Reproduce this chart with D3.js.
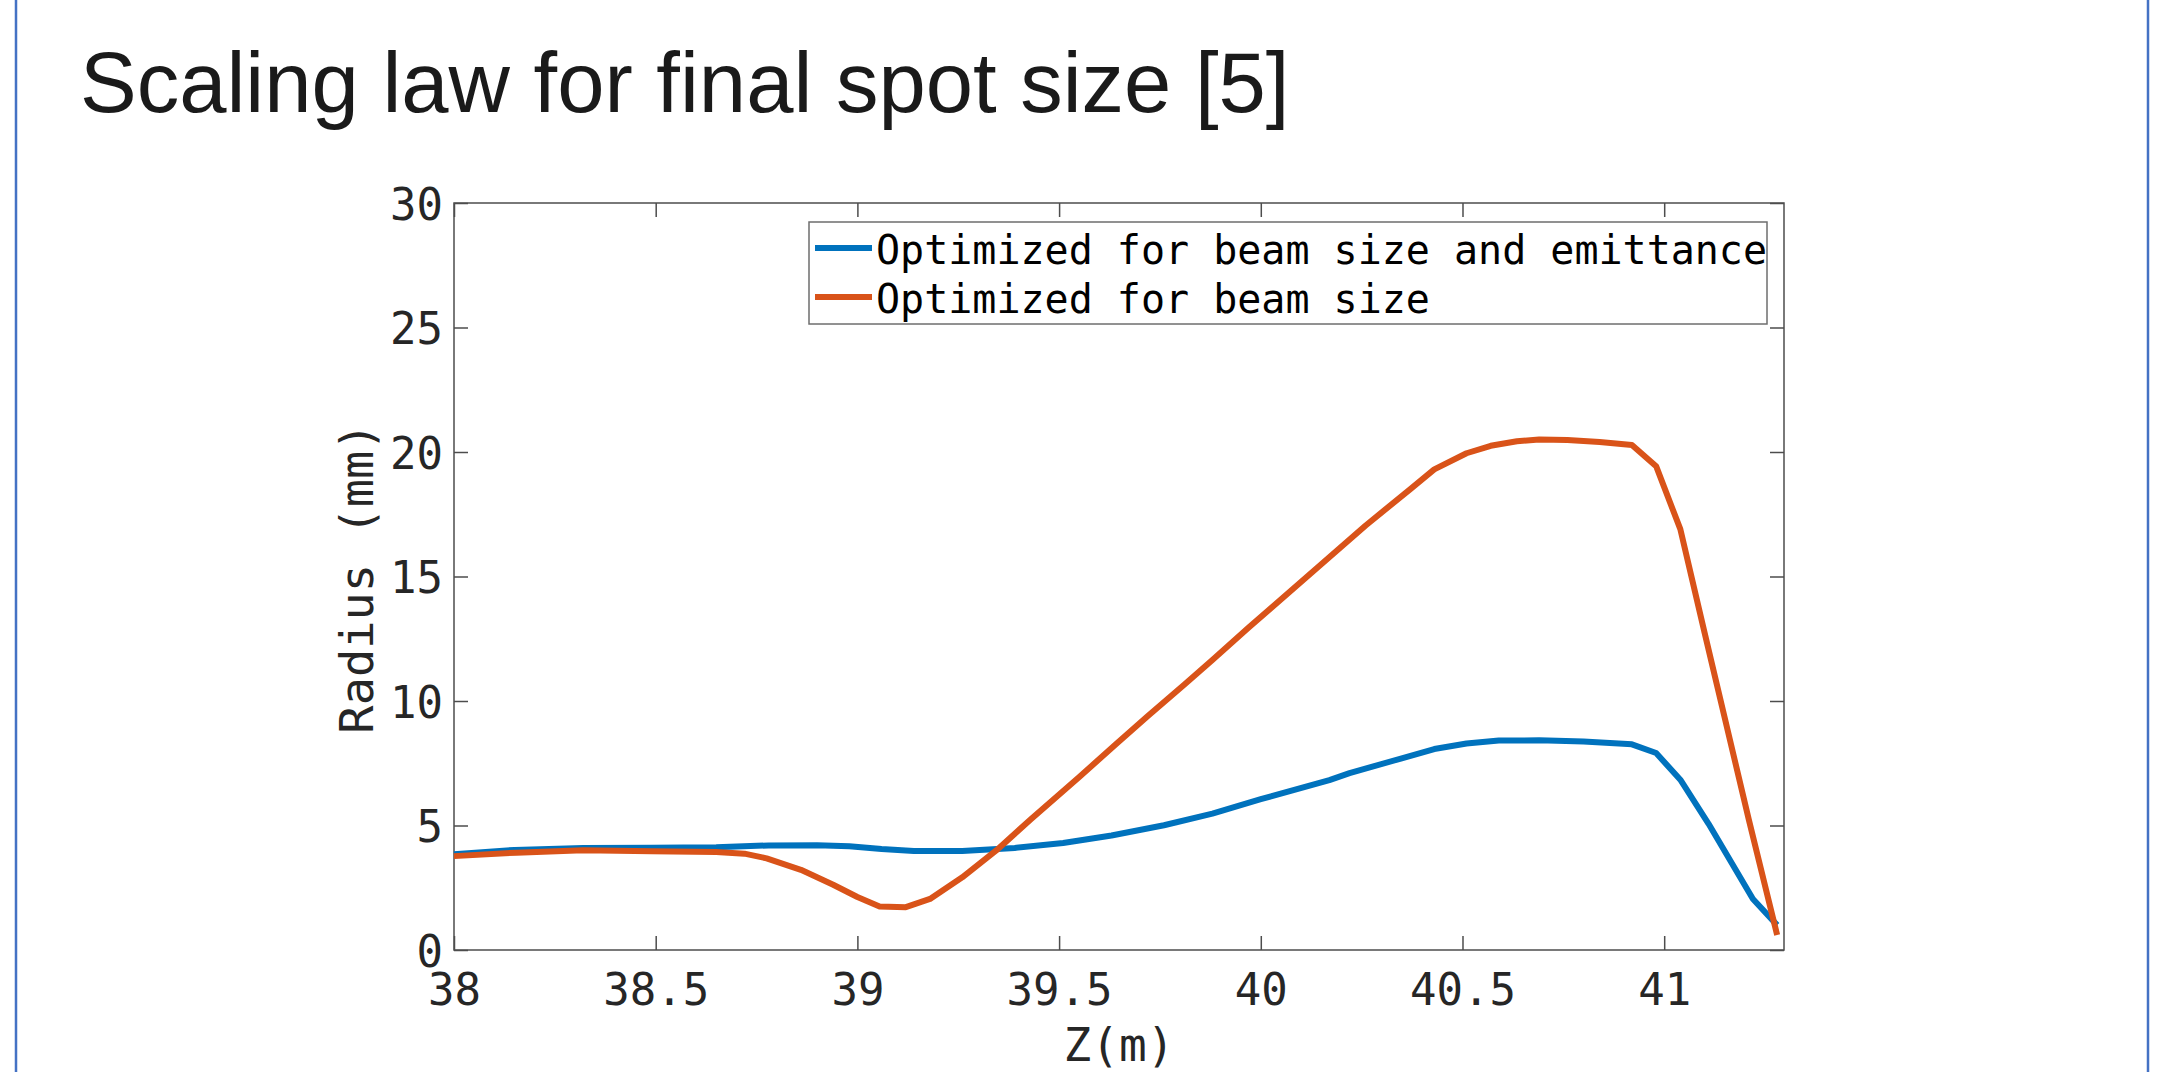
<!DOCTYPE html>
<html>
<head>
<meta charset="utf-8">
<script src="https://cdn.jsdelivr.net/npm/d3@7"></script>
<style>
  body { margin: 0; background: #fff; }
  svg { display: block; }
</style>
</head>
<body>
<div id="svganchor"></div>
<script>
/*
------------------------
DATA: values
------------------------
*/
// "Optimized for beam size and emittance"
let zBlue = [38.00, 38.15, 38.32, 38.49, 38.65, 38.78, 38.90, 38.98, 39.06, 39.14, 39.26, 39.39,
  39.51, 39.63, 39.76, 39.88, 40.00, 40.17, 40.22, 40.345, 40.43, 40.51, 40.59, 40.69, 40.80,
  40.92, 40.98, 41.04, 41.11, 41.22, 41.28]
let rBlue = [3.85, 4.02, 4.10, 4.11, 4.13, 4.20, 4.21, 4.17, 4.06, 3.98, 3.98, 4.10,
  4.30, 4.60, 5.01, 5.48, 6.06, 6.82, 7.10, 7.68, 8.07, 8.29, 8.41, 8.42, 8.37,
  8.26, 7.91, 6.84, 5.07, 2.05, 1.00]

// "Optimized for beam size"
let zOrange = [38.00, 38.155, 38.32, 38.49, 38.65, 38.72, 38.775, 38.86, 38.94, 39.00, 39.055, 39.12,
  39.18, 39.26, 39.345, 39.43, 39.55, 39.64, 39.72, 39.81, 39.88, 39.97, 40.14, 40.26, 40.37,
  40.43, 40.51, 40.57, 40.635, 40.69, 40.76, 40.84, 40.92, 40.98, 41.04, 41.10, 41.21, 41.28]
let rOrange = [3.77, 3.91, 4.01, 3.97, 3.94, 3.87, 3.68, 3.22, 2.62, 2.13, 1.75, 1.72,
  2.05, 2.92, 4.01, 5.25, 6.95, 8.25, 9.40, 10.65, 11.65, 12.95, 15.35, 17.05, 18.50,
  19.30, 19.95, 20.25, 20.43, 20.50, 20.48, 20.40, 20.28, 19.43, 16.90, 12.75, 5.22, 0.60]

let seriesNames = ["Optimized for beam size and emittance", "Optimized for beam size"]
let xTicks = [38, 38.5, 39, 39.5, 40, 40.5, 41]
let yTicks = [0, 5, 10, 15, 20, 25, 30]
let xDomain = [38, 41.297]
let yDomain = [0, 30]

/*
------------------------
METHOD: set the dimensions of the graph
------------------------
*/
var W = 2164, H = 1072;
var margin = { top: 203, right: W - 1784, bottom: H - 950, left: 454 },
  width = W - margin.left - margin.right,
  height = H - margin.top - margin.bottom;

var monoFont = "'DejaVu Sans Mono', monospace";
var inkColor = "#262626";
var myColor = ["#0072BD", "#D95319"];

var svg = d3.select("#svganchor").append("svg")
  .attr("width", W)
  .attr("height", H);

svg.append("rect").attr("width", W).attr("height", H).attr("fill", "white");

// slide frame lines left and right
svg.append("line").attr("x1", 16).attr("x2", 16).attr("y1", 0).attr("y2", H)
  .attr("stroke", "#4472C4").attr("stroke-width", 2.5);
svg.append("line").attr("x1", 2148).attr("x2", 2148).attr("y1", 0).attr("y2", H)
  .attr("stroke", "#4472C4").attr("stroke-width", 2.5);

// slide title
svg.append("text")
  .attr("x", 80)
  .attr("y", 112)
  .style("font-family", "'Liberation Sans', Arial, sans-serif")
  .style("font-size", "85px")
  .attr("fill", "#1a1a1a")
  .text("Scaling law for final spot size [5]");

var g = svg.append("g")
  .attr("transform", "translate(" + margin.left + "," + margin.top + ")");

var x = d3.scaleLinear().domain(xDomain).range([0, width]);
var y = d3.scaleLinear().domain(yDomain).range([height, 0]);

/*
------------------------
axes: MATLAB style box with inward ticks on all four sides
------------------------
*/
function styleAxis(sel) {
  sel.select(".domain").remove();
  sel.selectAll(".tick line").attr("stroke", "#4d4d4d").attr("stroke-width", 1.5);
  sel.selectAll(".tick text")
    .attr("fill", inkColor)
    .style("font-family", monoFont)
    .style("font-size", "44px");
}

g.append("g")
  .attr("transform", "translate(0," + height + ")")
  .call(d3.axisBottom(x).tickValues(xTicks).tickSize(-14).tickSizeOuter(0).tickPadding(24)
    .tickFormat(d3.format("")))
  .call(styleAxis);

g.append("g")
  .call(d3.axisLeft(y).tickValues(yTicks).tickSize(-14).tickSizeOuter(0).tickPadding(11))
  .call(styleAxis)
  .selectAll(".tick text").attr("dy", "0.37em");

g.append("g")
  .call(d3.axisTop(x).tickValues(xTicks).tickSize(-14).tickSizeOuter(0).tickFormat(""))
  .call(styleAxis);

g.append("g")
  .attr("transform", "translate(" + width + ",0)")
  .call(d3.axisRight(y).tickValues(yTicks).tickSize(-14).tickSizeOuter(0).tickFormat(""))
  .call(styleAxis);

g.append("rect")
  .attr("width", width)
  .attr("height", height)
  .attr("fill", "none")
  .attr("stroke", "#4d4d4d")
  .attr("stroke-width", 1.5);

// axis titles
g.append("text")
  .attr("x", width / 2)
  .attr("y", height + 111)
  .attr("text-anchor", "middle")
  .attr("fill", inkColor)
  .style("font-family", monoFont)
  .style("font-size", "46px")
  .text("Z(m)");

g.append("text")
  .attr("transform", "translate(" + (373 - margin.left) + "," + (578 - margin.top) + ") rotate(-90)")
  .attr("text-anchor", "middle")
  .attr("fill", inkColor)
  .style("font-family", monoFont)
  .style("font-size", "47px")
  .text("Radius (mm)");

/*
------------------------
the two lines
------------------------
*/
var dataReady = [
  { name: seriesNames[0], values: zBlue.map(function (z, i) { return { z: z, r: rBlue[i] }; }) },
  { name: seriesNames[1], values: zOrange.map(function (z, i) { return { z: z, r: rOrange[i] }; }) }
];

var line = d3.line()
  .x(function (d) { return x(d.z) })
  .y(function (d) { return y(d.r) });

g.selectAll("myLines")
  .data(dataReady)
  .enter()
  .append("path")
  .attr("d", function (d) { return line(d.values) })
  .attr("stroke", function (d, i) { return myColor[i] })
  .attr("stroke-width", 6)
  .attr("stroke-linejoin", "round")
  .attr("fill", "none");

/*
------------------------
legend, top right inside the axes
------------------------
*/
var legW = 958, legH = 102;
var leg = g.append("g")
  .attr("transform", "translate(" + (width - 17 - legW) + ",19)");

leg.append("rect")
  .attr("width", legW)
  .attr("height", legH)
  .attr("fill", "white")
  .attr("stroke", "#6e6e6e")
  .attr("stroke-width", 1.5);

var items = leg.selectAll("myLegend")
  .data(dataReady)
  .enter()
  .append("g")
  .attr("transform", function (d, i) { return "translate(0," + (26 + i * 49) + ")"; });

items.append("line")
  .attr("x1", 6).attr("x2", 63)
  .attr("stroke", function (d, i) { return myColor[i] })
  .attr("stroke-width", 6);

items.append("text")
  .attr("x", 67)
  .attr("y", 16)
  .attr("fill", "#000")
  .style("font-family", monoFont)
  .style("font-size", "40px")
  .text(function (d) { return d.name; });
</script>
</body>
</html>
